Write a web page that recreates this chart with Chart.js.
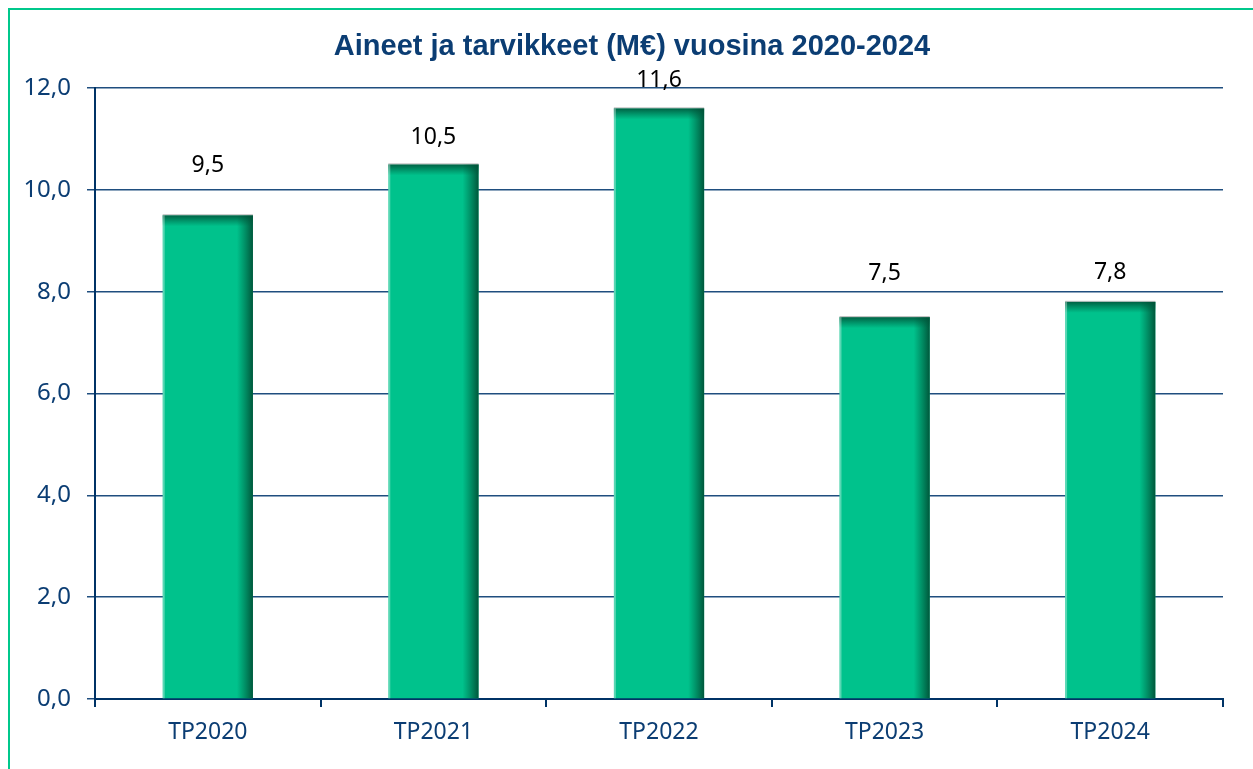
<!DOCTYPE html>
<html>
<head>
<meta charset="utf-8">
<script src="https://cdn.jsdelivr.net/npm/chart.js@4/dist/chart.umd.min.js"></script>
<style>
  html, body { margin: 0; padding: 0; background: #fff; overflow: hidden; }
  #frame {
    position: absolute; left: 8px; top: 8px; width: 2000px; height: 2000px;
    border-left: 2px solid #00C88C; border-top: 2px solid #00C88C;
  }
  #wrap { position: absolute; left: 0; top: 0; width: 1253px; height: 769px; }
</style>
</head>
<body>
<div id="frame"></div>
<div id="wrap"><canvas id="chart"></canvas></div>
<script>
const categories = ['TP2020', 'TP2021', 'TP2022', 'TP2023', 'TP2024'];
const values = [9.5, 10.5, 11.6, 7.5, 7.8];
const yTicks = [0, 2, 4, 6, 8, 10, 12];
const chartTitle = 'Aineet ja tarvikkeet (M€) vuosina 2020-2024';

// label lift above each bar, as placed in the original
const labelOffsetPx = [50, 27, 28, 44, 29];

const navy = '#0B3D73';
const fmt = v => v.toFixed(1).replace('.', ',');

// title drawn by hand so it can sit off-centre like the original
const titleText = {
  id: 'titleText',
  afterDraw(chart) {
    const ctx = chart.ctx;
    ctx.save();
    ctx.font = 'bold 29px Arial, "Liberation Sans", sans-serif';
    ctx.fillStyle = navy;
    ctx.textAlign = 'center';
    ctx.textBaseline = 'middle';
    ctx.fillText(chartTitle, 632, 47);
    ctx.restore();
  }
};

// darker right and top edges on the bars
const barShade = {
  id: 'barShade',
  afterDatasetsDraw(chart) {
    const ctx = chart.ctx;
    chart.getDatasetMeta(0).data.forEach(bar => {
      const left = bar.x - bar.width / 2;
      const right = bar.x + bar.width / 2;
      const top = bar.y;
      const bottom = bar.base;
      ctx.save();
      let g = ctx.createLinearGradient(right - 16, 0, right, 0);
      g.addColorStop(0, 'rgba(0,90,60,0)');
      g.addColorStop(1, 'rgba(0,75,50,0.9)');
      ctx.fillStyle = g;
      ctx.fillRect(right - 16, top, 16, bottom - top);
      g = ctx.createLinearGradient(0, top, 0, top + 11);
      g.addColorStop(0, 'rgba(0,80,55,0.85)');
      g.addColorStop(1, 'rgba(0,90,60,0)');
      ctx.fillStyle = g;
      ctx.fillRect(left, top, right - left, 11);
      ctx.fillStyle = 'rgba(255,255,255,0.35)';
      ctx.fillRect(left, top, 2, bottom - top);
      ctx.fillStyle = 'rgba(170,170,170,0.8)';
      ctx.fillRect(left, top - 1, right - left, 1);
      ctx.restore();
    });
  }
};

const valueLabels = {
  id: 'valueLabels',
  afterDatasetsDraw(chart) {
    const ctx = chart.ctx;
    ctx.save();
    ctx.font = '23px "Noto Sans"';
    ctx.fillStyle = '#000';
    ctx.textAlign = 'center';
    ctx.textBaseline = 'middle';
    chart.getDatasetMeta(0).data.forEach((bar, i) => {
      ctx.fillText(fmt(values[i]), bar.x, bar.y - labelOffsetPx[i]);
    });
    ctx.restore();
  }
};

new Chart(document.getElementById('chart'), {
  type: 'bar',
  data: {
    labels: categories,
    datasets: [{
      data: values,
      backgroundColor: '#00C28C',
      borderWidth: 0,
      barPercentage: 0.4,
      categoryPercentage: 1.0
    }]
  },
  options: {
    responsive: true,
    maintainAspectRatio: false,
    animation: false,
    layout: { padding: { top: 88, right: 30, bottom: 0, left: 0 } },
    plugins: {
      legend: { display: false },
      tooltip: { enabled: false },
      title: { display: false }
    },
    scales: {
      x: {
        grid: {
          offset: true,
          drawOnChartArea: false,
          drawTicks: true,
          tickLength: 8,
          color: '#003366',
          lineWidth: 2
        },
        border: { color: '#003366', width: 2 },
        ticks: {
          color: navy,
          font: { family: '"Noto Sans"', size: 23 },
          padding: 12
        },
        afterFit: s => { s.height = 70; }
      },
      y: {
        min: 0,
        max: 12,
        afterBuildTicks: s => { s.ticks = yTicks.map(v => ({ value: v })); },
        grid: {
          color: '#1F4E7F',
          lineWidth: 1.5,
          tickLength: 8
        },
        border: { color: '#003366', width: 2 },
        ticks: {
          color: navy,
          font: { family: '"Noto Sans"', size: 24 },
          padding: 16,
          callback: v => fmt(v)
        },
        afterFit: s => { s.width = 95; }
      }
    }
  },
  plugins: [barShade, valueLabels, titleText]
});
</script>
</body>
</html>
